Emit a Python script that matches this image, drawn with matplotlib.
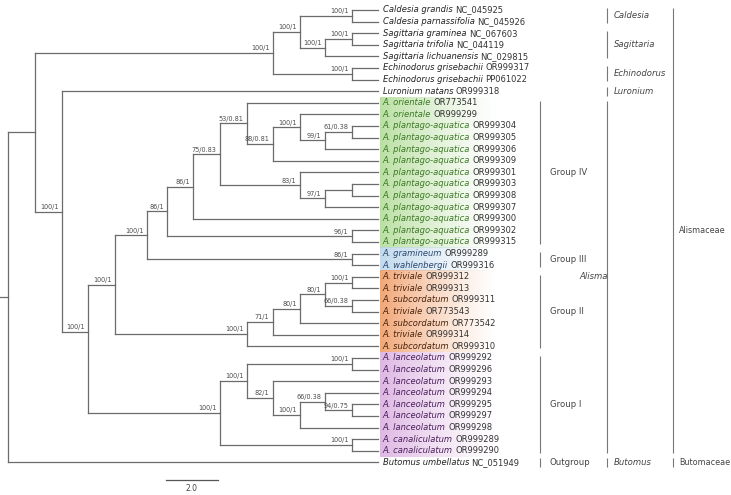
import matplotlib.pyplot as plt
import numpy as np
from matplotlib.collections import LineCollection
from matplotlib.colors import to_rgb

plt.rcParams['font.family'] = ['DejaVu Sans']

# tip labels, top to bottom
SPECIES = [
    "Caldesia grandis", "Caldesia parnassifolia", "Sagittaria graminea",
    "Sagittaria trifolia", "Sagittaria lichuanensis", "Echinodorus grisebachii",
    "Echinodorus grisebachii", "Luronium natans",
    "A. orientale", "A. orientale",
    "A. plantago-aquatica", "A. plantago-aquatica", "A. plantago-aquatica",
    "A. plantago-aquatica", "A. plantago-aquatica", "A. plantago-aquatica",
    "A. plantago-aquatica", "A. plantago-aquatica", "A. plantago-aquatica",
    "A. plantago-aquatica", "A. plantago-aquatica",
    "A. gramineum", "A. wahlenbergii",
    "A. triviale", "A. triviale", "A. subcordatum", "A. triviale",
    "A. subcordatum", "A. triviale", "A. subcordatum",
    "A. lanceolatum", "A. lanceolatum", "A. lanceolatum", "A. lanceolatum",
    "A. lanceolatum", "A. lanceolatum", "A. lanceolatum",
    "A. canaliculatum", "A. canaliculatum",
    "Butomus umbellatus",
]
ACCESSION = [
    "NC_045925", "NC_045926", "NC_067603", "NC_044119", "NC_029815",
    "OR999317", "PP061022", "OR999318",
    "OR773541", "OR999299",
    "OR999304", "OR999305", "OR999306", "OR999309", "OR999301", "OR999303",
    "OR999308", "OR999307", "OR999300", "OR999302", "OR999315",
    "OR999289", "OR999316",
    "OR999312", "OR999313", "OR999311", "OR773543", "OR773542", "OR999314",
    "OR999310",
    "OR999292", "OR999296", "OR999293", "OR999294", "OR999295", "OR999297",
    "OR999298", "OR999289", "OR999290",
    "NC_051949",
]
CLADE = [""] * 8 + ["IV"] * 13 + ["III"] * 2 + ["II"] * 7 + ["I"] * 9 + [""]

TIP_DEPTH = 14.23
# (depth, support, children[, row]) ; ints are tip indices
TREE = (0.0, "", [
    (1.04, "", [
        (10.19, "100/1", [
            (11.23, "100/1", [
                (13.23, "100/1", [0, 1]),
                (12.19, "100/1", [(13.23, "100/1", [2, 3]), 4]),
            ]),
            (13.23, "100/1", [5, 6]),
        ]),
        (2.08, "100/1", [
            7,
            (3.08, "100/1", [
                (4.12, "100/1", [
                    (5.35, "100/1", [
                        (6.12, "86/1", [
                            (7.12, "86/1", [
                                (8.15, "75/0.83", [
                                    (9.19, "53/0.81", [
                                        8,
                                        (10.19, "88/0.81", [
                                            (11.23, "100/1", [
                                                9,
                                                (12.19, "99/1", [
                                                    (13.23, "61/0.38", [10, 11]),
                                                    12]),
                                            ]),
                                            13]),
                                    ]),
                                    (11.23, "83/1", [
                                        14,
                                        (12.19, "97/1", [(13.23, "", [15, 16]), 17]),
                                    ]),
                                ]),
                                18]),
                            (13.23, "96/1", [19, 20]),
                        ]),
                        (13.23, "86/1", [21, 22]),
                    ]),
                    (9.19, "100/1", [
                        (10.19, "71/1", [
                            (11.23, "80/1", [
                                (12.19, "80/1", [
                                    (13.23, "100/1", [23, 24]),
                                    (13.23, "66/0.38", [25, 26]),
                                ]),
                                27]),
                            28]),
                        29]),
                ]),
                (8.15, "100/1", [
                    (9.19, "100/1", [
                        (13.23, "100/1", [30, 31]),
                        (10.19, "82/1", [
                            32,
                            (11.23, "100/1", [
                                (12.19, "66/0.38", [33, (13.23, "94/0.75", [34, 35])]),
                                36]),
                        ]),
                    ]),
                    (13.23, "100/1", [37, 38]),
                ]),
            ], 27.76),
        ]),
    ]),
    39,
])

GROUP_BARS = [("Group IV", 8, 20), ("Group III", 21, 22), ("Group II", 23, 29),
              ("Group I", 30, 38), ("Outgroup", 39, 39)]
GENUS_BARS = [("Caldesia", 0, 1), ("Sagittaria", 2, 4), ("Echinodorus", 5, 6),
              ("Luronium", 7, 7), ("Alisma", 8, 38), ("Butomus", 39, 39)]
FAMILY_BARS = [("Alismaceae", 0, 38), ("Butomaceae", 39, 39)]
SCALE_LEN = 2.0

HIGHLIGHT = {"IV": "#b3dc99", "III": "#bcd6ec", "II": "#f19d68", "I": "#dbb0e0"}
TEXT_COL = {"": "#222222", "IV": "#3a7a22", "III": "#27486f", "II": "#4a2208", "I": "#4a1d5c"}

W, H = 731, 495
PX_UNIT = 26.0      # pixels per branch-length unit
ROW_PX = 11.6
X0_PX, Y0_PX = 8, 10

fig = plt.figure(figsize=(W / 100, H / 100), dpi=100)
ax = fig.add_axes([0, 0, 1, 1])
ax.set_axis_off()

segs, supports = [], []


def layout(node):
    if isinstance(node, int):
        return TIP_DEPTH, node
    depth, support, children = node[:3]
    pos = [layout(c) for c in children]
    ys = [p[1] for p in pos]
    y = node[3] if len(node) > 3 else (min(ys) + max(ys)) / 2
    segs.append([(depth, min(ys)), (depth, max(ys))])
    for cx, cy in pos:
        segs.append([(depth, cy), (cx, cy)])
    if support:
        supports.append((depth, y, support))
    return depth, y


root_x, root_y = layout(TREE)
segs.append([(root_x - 0.3, root_y), (root_x, root_y)])
ax.add_collection(LineCollection(segs, colors="#6b6b6b", linewidths=0.9, capstyle="projecting"))

for x, y, s in supports:
    ax.annotate(s, (x, y), xytext=(-2.5, 1.2), textcoords="offset points",
                ha="right", va="bottom", fontsize=4.7, color="#4d4d4d")

# coloured clade backgrounds fading to the right
grad_x0 = TIP_DEPTH + 0.07
grad_x1 = TIP_DEPTH + 4.6
t = np.linspace(0, 1, 200)
for clade, col in HIGHLIGHT.items():
    rows = [i for i, c in enumerate(CLADE) if c == clade]
    img = np.zeros((1, len(t), 4))
    img[..., :3] = to_rgb(col)
    img[..., 3] = 0.9 * (1 - t) ** 1.3
    ax.imshow(img, extent=[grad_x0, grad_x1, max(rows) + 0.5, min(rows) - 0.5],
              aspect="auto", interpolation="bilinear", zorder=0)

for i, (sp, acc) in enumerate(zip(SPECIES, ACCESSION)):
    t1 = ax.text(TIP_DEPTH + 0.19, i, sp, style="italic", fontsize=6.0,
                 color=TEXT_COL[CLADE[i]], ha="left", va="center")
    ax.annotate(acc, xy=(1, 0), xycoords=t1, xytext=(1.6, 0), textcoords="offset points",
                ha="left", va="bottom", fontsize=6.0, color="#333333")

tr = ax.get_yaxis_transform()


def bars(items, x_px, text_px, italic, size=6.1):
    for name, r0, r1 in items:
        pad = 0.4 if r0 == r1 else 0.15
        ax.vlines(x_px / W, r0 - pad, r1 + pad, transform=tr, color="#777777", lw=0.8)
        ax.text(text_px(name) / W, (r0 + r1) / 2, name, transform=tr, ha="left",
                va="center", fontsize=size, color="#444444",
                style="italic" if italic else "normal")


bars(GROUP_BARS, 540, lambda n: 550, False)
bars(GENUS_BARS, 607, lambda n: 579 if n == "Alisma" else 614, True)
bars(FAMILY_BARS, 673, lambda n: 679, False, size=5.8)

# scale bar
sb_x = (166 - X0_PX) / PX_UNIT
ax.plot([sb_x, sb_x + SCALE_LEN], [40.5, 40.5], color="#555555", lw=0.9)
ax.text(sb_x + SCALE_LEN / 2, 41.25, f"{SCALE_LEN:.1f}", ha="center", va="center",
        fontsize=5.5, color="#444444")

ax.set_xlim(-X0_PX / PX_UNIT, (W - X0_PX) / PX_UNIT)
ax.set_ylim((H - Y0_PX) / ROW_PX, -Y0_PX / ROW_PX)

fig.savefig("out.png", dpi=100)
